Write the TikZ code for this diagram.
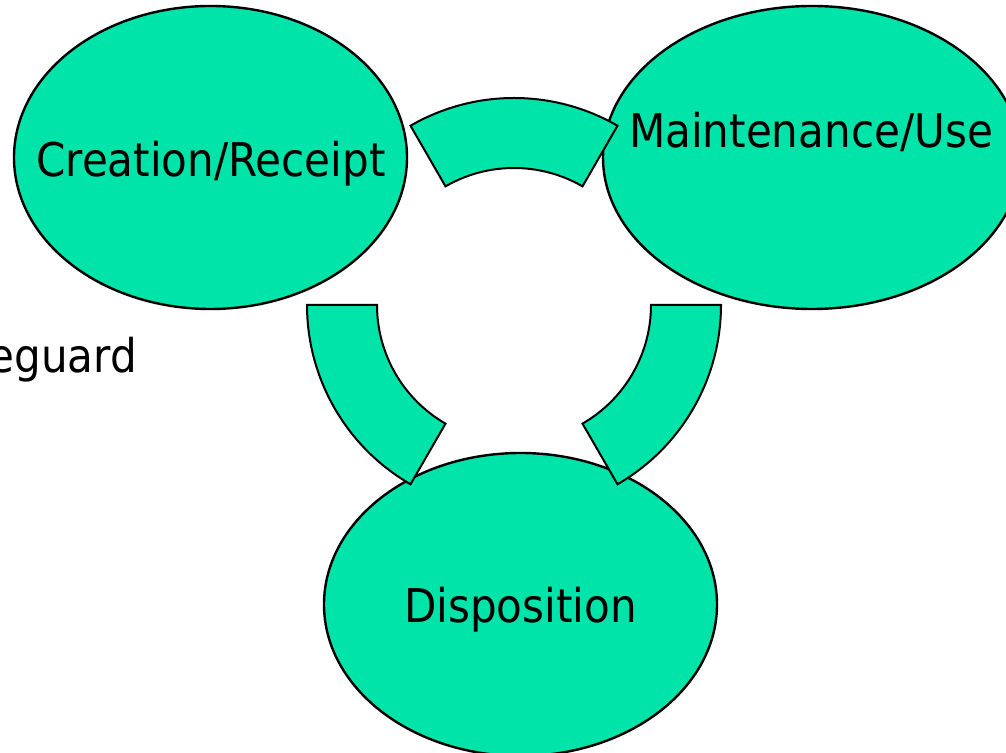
\documentclass[tikz,border=0pt]{standalone}
\usepackage{fontspec}
\setmainfont{DejaVu Sans}[FakeStretch=0.905]
\usetikzlibrary{shapes.geometric}
\definecolor{lifegreen}{RGB}{0,228,170}
\begin{document}
\begin{tikzpicture}[x=1pt,y=1pt,
  phase/.style={ellipse, draw=black, line width=2.4pt, fill=lifegreen, inner sep=0pt, outer sep=0pt},
  band/.style={draw=black, line width=2pt, fill=lifegreen, line join=miter},
  lbl/.style={anchor=base, font=\fontsize{46.5}{50}\selectfont, inner sep=0pt, text=black}]
\useasboundingbox (0,0) rectangle (1006,752);
\clip (0,0) rectangle (1006,752);
% phases
\node[phase, minimum width=393pt, minimum height=303pt] (cr) at (210.5,594.5) {};
\node[phase, minimum width=418pt, minimum height=303pt] (mu) at (812,594.5) {};
\node[phase, minimum width=393pt, minimum height=303pt] (di) at (520.5,147.5) {};
% labels
\node[lbl] (crt) at (211,575) {Creation/Receipt};
\node[lbl] (mut) at (811,604) {Maintenance/Use};
\node[lbl] (dit) at (520.5,129) {Disposition};
\node[lbl, anchor=base east] (sg) at (137,379) {eguard};
% bands
\coordinate (O) at (514,447);
\draw[band] ([shift={(60:207pt)}]O) arc[start angle=60, end angle=120, radius=207pt]
  -- ([shift={(120:137pt)}]O) arc[start angle=120, end angle=60, radius=137pt] -- cycle;
\draw[band] ([shift={(180:207pt)}]O) arc[start angle=180, end angle=240, radius=207pt]
  -- ([shift={(240:137pt)}]O) arc[start angle=240, end angle=180, radius=137pt] -- cycle;
\draw[band] ([shift={(300:207pt)}]O) arc[start angle=300, end angle=360, radius=207pt]
  -- ([shift={(360:137pt)}]O) arc[start angle=360, end angle=300, radius=137pt] -- cycle;
\end{tikzpicture}
\end{document}
